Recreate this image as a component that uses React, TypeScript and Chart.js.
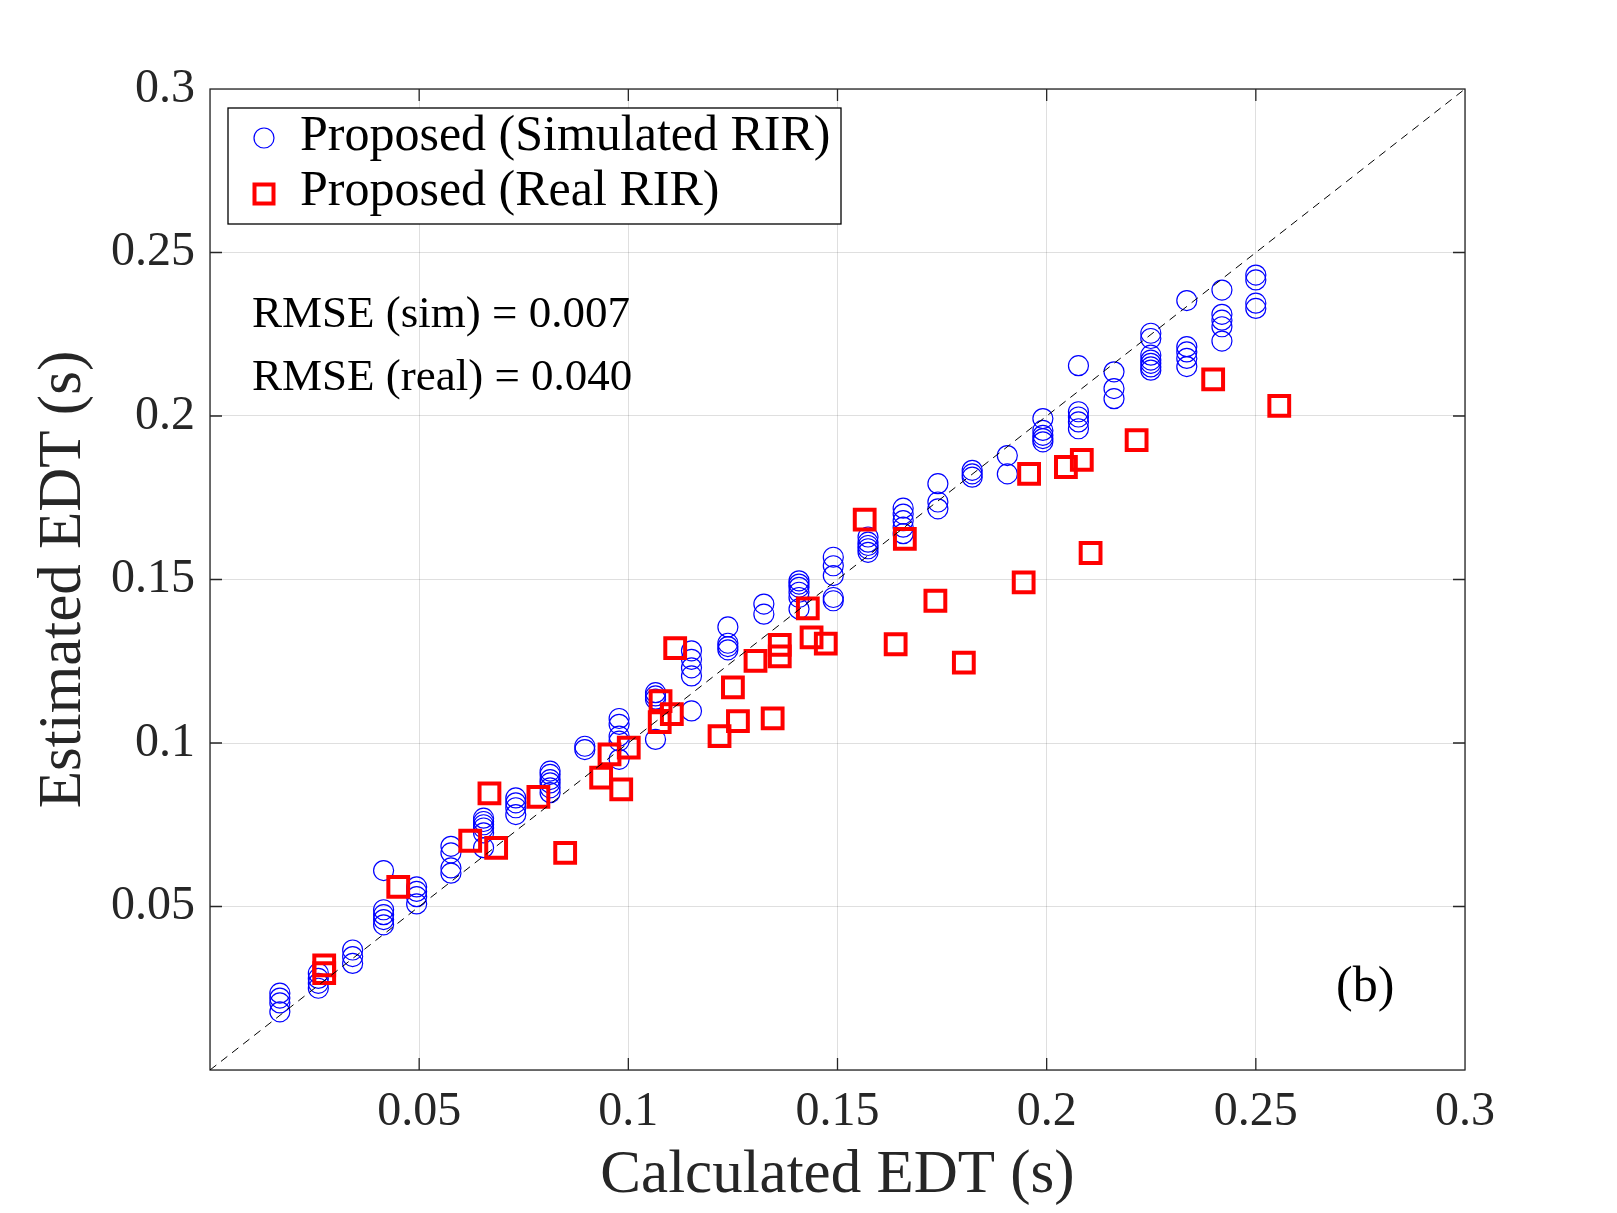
import * as React from 'react';
import { Chart, registerables } from 'chart.js';

Chart.register(...registerables);

// calculated EDT columns (s) for the simulated RIRs, and the estimated EDTs in each column
const simColumns = [
  0.0167, 0.0259, 0.0341, 0.0415, 0.0494, 0.0576, 0.0654, 0.0731, 0.0813, 0.0896,
  0.0978, 0.1065, 0.1151, 0.1238, 0.1324, 0.1408, 0.149, 0.1573, 0.1657, 0.174,
  0.1822, 0.1906, 0.1991, 0.2076, 0.2161, 0.2249, 0.2335, 0.2419, 0.25,
];
const simEstimates = [
  [0.0235, 0.022, 0.0205, 0.0178],
  [0.0296, 0.028, 0.0265, 0.025],
  [0.0367, 0.0347, 0.0326],
  [0.061, 0.049, 0.0475, 0.046, 0.0444],
  [0.056, 0.0546, 0.053, 0.0508],
  [0.0684, 0.0664, 0.0618, 0.0602],
  [0.077, 0.076, 0.075, 0.074, 0.0725, 0.068],
  [0.0832, 0.0817, 0.0802, 0.0781],
  [0.0914, 0.0904, 0.0888, 0.0878, 0.0863, 0.0848],
  [0.099, 0.098],
  [0.1075, 0.1057, 0.1021, 0.1006, 0.095],
  [0.1154, 0.1144, 0.1134, 0.1011],
  [0.1282, 0.1256, 0.123, 0.1205, 0.1098],
  [0.1355, 0.1305, 0.1295, 0.1285],
  [0.1425, 0.1394],
  [0.1496, 0.1486, 0.1476, 0.1461, 0.1445, 0.141],
  [0.1568, 0.1542, 0.1512, 0.1445, 0.1435],
  [0.163, 0.1614, 0.1604, 0.1594, 0.1583],
  [0.1718, 0.17, 0.168, 0.166, 0.164],
  [0.1793, 0.1737, 0.1716],
  [0.1834, 0.1823, 0.1813],
  [0.1879, 0.1823],
  [0.1992, 0.1956, 0.1941, 0.1931, 0.1921],
  [0.2154, 0.2013, 0.1997, 0.1982, 0.1961],
  [0.2135, 0.2084, 0.2053],
  [0.2253, 0.2237, 0.2186, 0.2171, 0.2161, 0.215, 0.214],
  [0.2353, 0.2212, 0.2196, 0.2176, 0.2151],
  [0.2385, 0.2311, 0.2293, 0.2273, 0.2229],
  [0.2431, 0.2416, 0.2345, 0.2329],
];

// real RIRs
const realCalculated = [
  0.0273, 0.0273, 0.045, 0.0622, 0.0684, 0.0849, 0.0668, 0.0785, 0.0935, 0.0955,
  0.0983, 0.1001, 0.1077, 0.1075, 0.1104, 0.1112, 0.1218, 0.125, 0.1262, 0.1304,
  0.1362, 0.1362, 0.1345, 0.1429, 0.1438, 0.1472, 0.1565, 0.1661, 0.1639, 0.1734,
  0.1802, 0.1945, 0.1958, 0.2046, 0.2084, 0.2105, 0.2215, 0.2398, 0.2556,
];
const realEstimated = [
  0.032, 0.0296, 0.056, 0.0701, 0.0679, 0.0664, 0.0846, 0.0835, 0.0894, 0.0965,
  0.0858, 0.0986, 0.1128, 0.1064, 0.1088, 0.129, 0.1021, 0.117, 0.1067, 0.1251,
  0.13, 0.1265, 0.1075, 0.1412, 0.1323, 0.1304, 0.1683, 0.1624, 0.1302, 0.1435,
  0.1246, 0.1491, 0.1823, 0.1844, 0.1866, 0.1581, 0.1926, 0.2112, 0.2031,
];

const identityLine = [0, 0.3];
const tickValues = [0.05, 0.1, 0.15, 0.2, 0.25];

const legendLabels = ['Proposed (Simulated RIR)', 'Proposed (Real RIR)'];
const rmseLines = ['RMSE (sim) = 0.007', 'RMSE (real) = 0.040'];
const panelLabel = '(b)';

const SERIF = '"Liberation Serif", "Times New Roman", serif';
const INK = '#262626';

const simPoints = simColumns.flatMap((x, i) => simEstimates[i].map((y) => ({ x, y })));
const realPoints = realCalculated.map((x, i) => ({ x, y: realEstimated[i] }));

const framePlugin = {
  id: 'frame',
  beforeDatasetsDraw(chart: any) {
    const { ctx, chartArea, scales } = chart;
    const { left, right, top, bottom } = chartArea;
    ctx.save();
    ctx.strokeStyle = INK;
    ctx.lineWidth = 1.3;
    ctx.strokeRect(left, top, right - left, bottom - top);
    ctx.beginPath();
    tickValues.forEach((v) => {
      const px = scales.x.getPixelForValue(v);
      ctx.moveTo(px, bottom);
      ctx.lineTo(px, bottom - 12);
      ctx.moveTo(px, top);
      ctx.lineTo(px, top + 12);
      const py = scales.y.getPixelForValue(v);
      ctx.moveTo(left, py);
      ctx.lineTo(left + 12, py);
      ctx.moveTo(right, py);
      ctx.lineTo(right - 12, py);
    });
    ctx.stroke();
    ctx.restore();
  },
  afterDraw(chart: any) {
    const { ctx } = chart;
    ctx.save();
    // legend box
    ctx.fillStyle = '#ffffff';
    ctx.fillRect(228, 108, 613, 116);
    ctx.strokeStyle = '#000000';
    ctx.lineWidth = 1.3;
    ctx.strokeRect(228, 108, 613, 116);
    // markers
    ctx.strokeStyle = '#0000ff';
    ctx.lineWidth = 1.2;
    ctx.beginPath();
    ctx.arc(264, 138, 10, 0, Math.PI * 2);
    ctx.stroke();
    ctx.strokeStyle = '#ff0000';
    ctx.lineWidth = 4;
    ctx.strokeRect(264 - 9.5, 194 - 9.5, 19, 19);
    // legend text
    ctx.fillStyle = '#000000';
    ctx.textBaseline = 'alphabetic';
    ctx.textAlign = 'left';
    ctx.font = `50px ${SERIF}`;
    ctx.fillText(legendLabels[0], 300, 150);
    ctx.fillText(legendLabels[1], 300, 205);
    // rmse text
    ctx.font = `45px ${SERIF}`;
    ctx.fillText(rmseLines[0], 252, 327);
    ctx.fillText(rmseLines[1], 252, 390);
    // panel label
    ctx.font = `50px ${SERIF}`;
    ctx.fillText(panelLabel, 1336, 1001);
    ctx.restore();
  },
};

const fmt = (v: number) => (Math.abs(v) < 1e-9 ? '' : String(parseFloat(v.toFixed(2))));

const App = () => {
  const canvasRef = React.useRef<HTMLCanvasElement>(null);
  const chartRef = React.useRef<Chart | null>(null);

  React.useEffect(() => {
    if (!canvasRef.current) return;
    const ctx = canvasRef.current.getContext('2d');
    if (!ctx) return;

    chartRef.current = new Chart(ctx, {
      type: 'scatter',
      data: {
        datasets: [
          {
            type: 'line',
            data: identityLine.map((v) => ({ x: v, y: v })),
            borderColor: '#000000',
            borderWidth: 1,
            borderDash: [8, 6],
            pointRadius: 0,
            showLine: true,
            fill: false,
          },
          {
            data: realPoints,
            pointStyle: 'rect',
            pointRadius: 14,
            pointBorderWidth: 4,
            borderColor: '#ff0000',
            backgroundColor: 'rgba(0,0,0,0)',
          },
          {
            data: simPoints,
            pointStyle: 'circle',
            pointRadius: 10,
            pointBorderWidth: 1.2,
            borderColor: '#0000ff',
            backgroundColor: 'rgba(0,0,0,0)',
          },
        ],
      } as any,
      options: {
        animation: false,
        responsive: true,
        maintainAspectRatio: false,
        devicePixelRatio: 1,
        layout: { padding: { left: 0, top: 89, right: 152, bottom: 0 } },
        plugins: { legend: { display: false }, tooltip: { enabled: false } },
        scales: {
          x: {
            type: 'linear',
            min: 0,
            max: 0.3,
            afterFit: (scale: any) => {
              scale.height = 143;
            },
            afterBuildTicks: (scale: any) => {
              scale.ticks = [0, 0.05, 0.1, 0.15, 0.2, 0.25, 0.3].map((value) => ({ value }));
            },
            ticks: {
              callback: (v: any) => fmt(Number(v)),
              font: { family: SERIF, size: 48 },
              color: INK,
              padding: 14,
              maxRotation: 0,
            },
            grid: { color: 'rgba(38,38,38,0.15)', lineWidth: 1, drawTicks: false },
            border: { display: false },
            title: {
              display: true,
              text: 'Calculated EDT (s)',
              font: { family: SERIF, size: 61 },
              color: INK,
              padding: { top: 0, bottom: 0 },
            },
          },
          y: {
            type: 'linear',
            min: 0,
            max: 0.3,
            afterFit: (scale: any) => {
              scale.width = 210;
            },
            afterBuildTicks: (scale: any) => {
              scale.ticks = [0, 0.05, 0.1, 0.15, 0.2, 0.25, 0.3].map((value) => ({ value }));
            },
            ticks: {
              callback: (v: any) => fmt(Number(v)),
              font: { family: SERIF, size: 48 },
              color: INK,
              padding: 15,
            },
            grid: { color: 'rgba(38,38,38,0.15)', lineWidth: 1, drawTicks: false },
            border: { display: false },
            title: {
              display: true,
              text: 'Estimated EDT (s)',
              font: { family: SERIF, size: 61 },
              color: INK,
              padding: { top: 27, bottom: 0 },
            },
          },
        },
      },
      plugins: [framePlugin],
    } as any);

    return () => {
      if (chartRef.current) {
        chartRef.current.destroy();
        chartRef.current = null;
      }
    };
  }, []);

  return (
    <div style={{ position: 'absolute', left: 0, top: 0, width: 1617, height: 1213, background: '#ffffff' }}>
      <canvas ref={canvasRef}></canvas>
    </div>
  );
};

export default App;
